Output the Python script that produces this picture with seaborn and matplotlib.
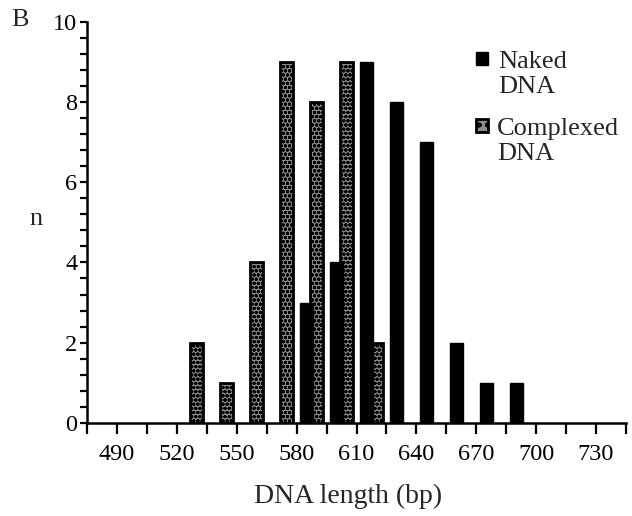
import seaborn as sns
import pandas as pd
import matplotlib.pyplot as plt
from matplotlib.patches import Rectangle

# DNA length histograms (bin centres in bp, counts)
naked_len = [585, 600, 615, 630, 645, 660, 675, 690]
naked_n = [3, 4, 9, 8, 7, 2, 1, 1]
complexed_len = [530, 545, 560, 575, 590, 605, 620]
complexed_n = [2, 1, 4, 9, 8, 9, 2]
x_labels = [490, 520, 550, 580, 610, 640, 670, 700, 730]

naked = pd.DataFrame({"length": naked_len, "n": naked_n})
complexed = pd.DataFrame({"length": complexed_len, "n": complexed_n})

sns.set_style("ticks")
plt.rcParams["font.family"] = ["Liberation Serif", "DejaVu Serif"]
plt.rcParams["hatch.linewidth"] = 1.1

fig = plt.figure(figsize=(6.32, 5.16), dpi=100)
ax = fig.add_axes([0.1377, 0.1802, 0.8528, 0.778])

sns.barplot(data=complexed, x="length", y="n", native_scale=True, width=0.44,
            color="white", edgecolor="black", linewidth=2.0, errorbar=None, ax=ax)
for p in ax.patches:
    p.set_hatch("oooo")
    p.set_facecolor("#8c8c8c")

sns.barplot(data=naked, x="length", y="n", native_scale=True, width=0.44,
            color="black", edgecolor="black", linewidth=1.0, errorbar=None, ax=ax)

ax.set_xlim(475, 745)
ax.set_ylim(0, 10)
ax.set_xticks(x_labels)
ax.set_xticks(list(range(475, 746, 15)), minor=True)
ax.set_yticks([0, 2, 4, 6, 8, 10])
ax.set_yticks([i * 0.4 for i in range(26)], minor=True)
ax.tick_params(axis="both", which="both", direction="out", width=1.6, color="black",
               labelsize=17.5, labelcolor="black")
ax.tick_params(axis="x", which="both", length=8, pad=7)
ax.tick_params(axis="y", which="both", length=5, pad=2)
sns.despine(ax=ax)
for s in ("left", "bottom"):
    ax.spines[s].set_linewidth(1.8)
    ax.spines[s].set_color("black")

ax.set_xlabel("")
ax.set_ylabel("")
fig.text(0.551, 0.025, "DNA length (bp)", fontsize=20, ha="center", va="baseline")
fig.text(0.057, 0.575, "n", fontsize=19, ha="center", va="center")
fig.text(0.032, 0.962, "B", fontsize=19, ha="center", va="center")

# legend drawn by hand so the squares sit beside the first line
fig.add_artist(Rectangle((0.753, 0.874), 0.019, 0.025, transform=fig.transFigure,
                         facecolor="black", edgecolor="black"))
fig.add_artist(Rectangle((0.753, 0.745), 0.019, 0.025, transform=fig.transFigure,
                         facecolor="#8c8c8c", edgecolor="black", linewidth=2.0, hatch="oo"))
fig.text(0.789, 0.868, "Naked", fontsize=19, va="baseline")
fig.text(0.789, 0.820, "DNA", fontsize=19, va="baseline")
fig.text(0.786, 0.738, "Complexed", fontsize=19, va="baseline")
fig.text(0.786, 0.690, "DNA", fontsize=19, va="baseline")

fig.savefig("out.png", dpi=100)
